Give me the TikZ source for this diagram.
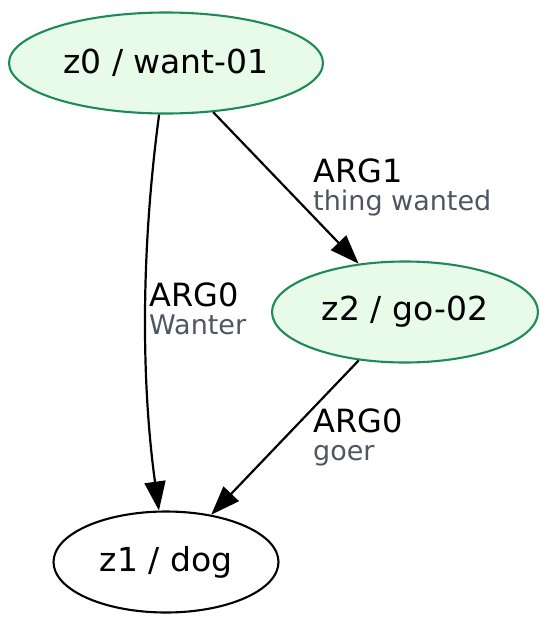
\documentclass[tikz,border=0pt]{standalone}
\usepackage{fontspec}
\setmainfont{DejaVu Sans}
\usetikzlibrary{arrows.meta, shapes.geometric}
\definecolor{amrgreen}{HTML}{1E8A5A}
\definecolor{amrfill}{HTML}{E8FAE8}
\definecolor{subgray}{HTML}{4F5663}

\begin{document}
\begin{tikzpicture}[
		x=1pt, y=-1pt,
		concept/.style={
			ellipse, draw=black, line width=2.1pt, inner sep=0pt,
			minimum height=101pt, font=\fontsize{33}{40}\selectfont
		},
		pred/.style={concept, draw=amrgreen, fill=amrfill},
		arr/.style={-{Triangle[length=29pt, width=21pt]}, line width=2.2pt, color=black},
		role/.style={anchor=base west, inner sep=0pt, font=\fontsize{32}{38}\selectfont},
		gloss/.style={role, text=subgray, font=\fontsize{27}{32}\selectfont},
		]
		
		\useasboundingbox (0,0) rectangle (550,627);
		
		% ── Concepts ─────────────────────────────────────────────────────
		\node[pred, minimum width=314pt] (z0) at (166, 63) {z0 / want-01};
		\node[pred, minimum width=266pt] (z2) at (405, 312) {z2 / go-02};
		\node[concept, minimum width=225pt] (z1) at (166, 562) {z1 / dog};
		
		% ── Roles ────────────────────────────────────────────────────────
		\draw[arr] (z0) -- (z2);
		\node[role] (r1) at (313, 182) {ARG1};
		\node[gloss] (g1) at (313, 210) {thing wanted};
		
		\draw[arr] (z0) .. controls (141, 250) and (141, 380) .. (z1);
		\node[role] (r0) at (149, 306) {ARG0};
		\node[gloss] (g0) at (149, 334) {Wanter};
		
		\draw[arr] (z2) -- (z1);
		\node[role] (r2) at (313, 432) {ARG0};
		\node[gloss] (g2) at (313, 460) {goer};
		
	\end{tikzpicture}
\end{document}
